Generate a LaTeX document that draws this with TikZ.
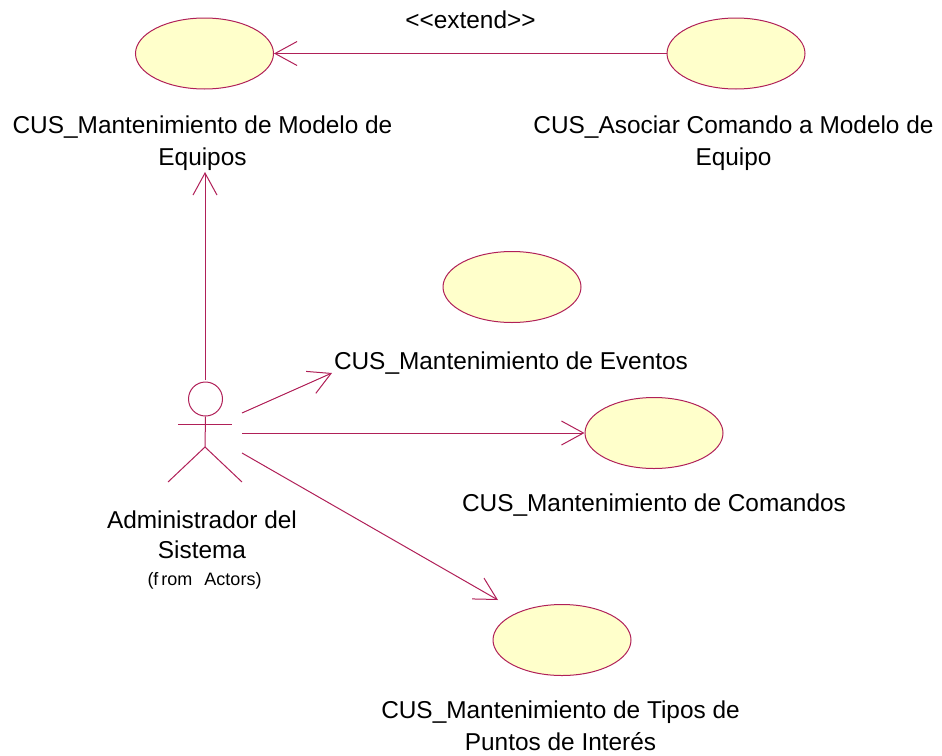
\documentclass[tikz,border=0pt]{standalone}
\usepackage{fontspec}
\setmainfont{Liberation Sans}
\usetikzlibrary{arrows.meta,shapes.geometric}
\definecolor{umlline}{RGB}{176,32,88}
\definecolor{umlfill}{RGB}{255,255,203}
\tikzset{
  usecase/.style={ellipse, draw=umlline, fill=umlfill, line width=1pt, minimum width=138pt, minimum height=71pt, inner sep=0pt},
  umllabel/.style={align=center, inner sep=0pt, font=\fontsize{24.4}{32}\selectfont},
  smalllabel/.style={align=center, inner sep=0pt, font=\fontsize{18}{20}\selectfont},
  assoc/.style={umlline, line width=1pt, -{Straight Barb[length=22pt,width=24pt]}},
  limb/.style={umlline, line width=1pt}
}
\begin{document}
\begin{tikzpicture}[x=1pt, y=-1pt]
  \useasboundingbox (0,0) rectangle (942,755);
  % use cases
  \node[usecase] (modelo) at (204.5,53.5) {};
  \node[usecase] (asociar) at (736,53.5) {};
  \node[usecase] (eventos) at (512,287) {};
  \node[usecase] (comandos) at (654,433) {};
  \node[usecase] (tipos) at (562,640) {};
  % labels
  \node[umllabel] (extend) at (470.5,20) {{<}{<}extend{>}{>}};
  \node[umllabel] (lblmodelo) at (202.5,143) {CUS\_Mantenimiento de Modelo de\\Equipos};
  \node[umllabel] (lblasociar) at (733.5,143) {CUS\_Asociar Comando a Modelo de\\Equipo};
  \node[umllabel] (lbleventos) at (511,363) {CUS\_Mantenimiento de Eventos};
  \node[umllabel] (lblcomandos) at (654,505) {CUS\_Mantenimiento de Comandos};
  \node[umllabel] (lbltipos) at (560.5,726) {CUS\_Mantenimiento de Tipos de\\Puntos de Interés};
  \node[umllabel] (lblactor) at (202,535) {Administrador del\\[-2pt]Sistema};
  \node[smalllabel] (lblfrom) at (204.5,581) {(f\kern3pt rom\ \kern7pt Actors)};
  % actor
  \node[circle, draw=umlline, line width=1pt, minimum size=34pt, inner sep=0pt] (head) at (205.5,399) {};
  \coordinate (hip) at (205,447);
  \coordinate (armL) at (178,424);
  \coordinate (armR) at (232,424);
  \coordinate (legL) at (168,482);
  \coordinate (legR) at (242,482);
  \draw[limb] (head.south) -- (hip);
  \draw[limb] (armL) -- (armR);
  \draw[limb] (legL) -- (hip) -- (legR);
  % connectors
  \coordinate (upstart) at (205,380);
  \coordinate (uptip) at (205,172);
  \coordinate (evstart) at (242,413);
  \coordinate (evtip) at (332,373);
  \coordinate (costart) at (242,433);
  \coordinate (tistart) at (242,453);
  \coordinate (titip) at (498,600);
  \draw[assoc] (asociar) -- (modelo);
  \draw[assoc] (upstart) -- (uptip);
  \draw[assoc] (evstart) -- (evtip);
  \draw[assoc] (costart) -- (comandos.west);
  \draw[assoc] (tistart) -- (titip);
\end{tikzpicture}
\end{document}
